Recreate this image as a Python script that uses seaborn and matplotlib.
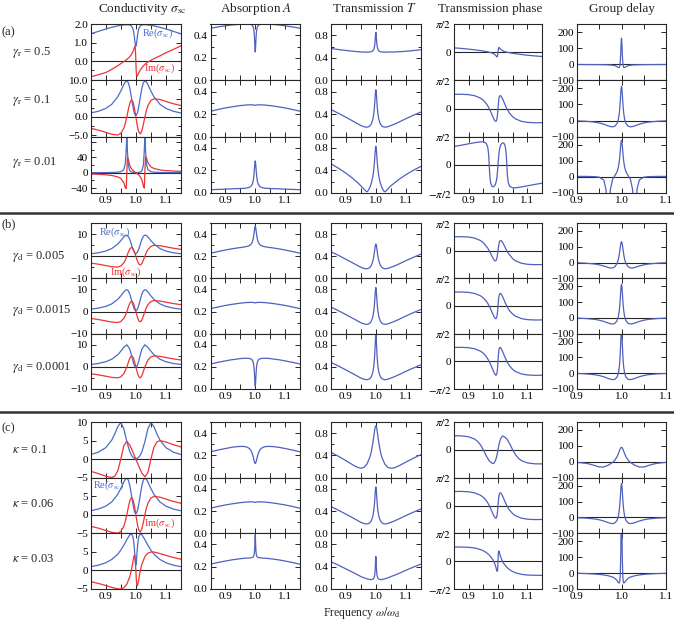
import matplotlib
matplotlib.use('Agg')
import matplotlib.pyplot as plt
import seaborn as sns
from matplotlib.lines import Line2D

sns.set_theme(style='ticks')
plt.rcParams['font.family'] = ['Liberation Serif', 'DejaVu Serif']
plt.rcParams['mathtext.fontset'] = 'stix'

# ---------------------------------------------------------------- data
# frequency grids (omega / omega_d)
X_BASE = [0.85, 0.875, 0.9, 0.92, 0.94, 0.95, 0.96, 0.965, 0.97, 0.975, 0.98, 0.985, 0.99, 0.993,
          0.995, 0.996, 0.997, 0.998, 0.999, 1.0, 1.001, 1.002, 1.003, 1.004, 1.005, 1.007, 1.01,
          1.015, 1.02, 1.025, 1.03, 1.035, 1.04, 1.05, 1.06, 1.08, 1.1, 1.125, 1.15]
X_A3 = [0.85, 0.875, 0.9, 0.92, 0.94, 0.95, 0.96, 0.965, 0.968, 0.97, 0.972, 0.975, 0.98, 0.985,
        0.99, 0.993, 0.995, 0.996, 0.997, 0.998, 0.999, 1.0, 1.001, 1.002, 1.003, 1.004, 1.005,
        1.007, 1.01, 1.015, 1.02, 1.025, 1.028, 1.03, 1.032, 1.035, 1.04, 1.05, 1.06, 1.08, 1.1,
        1.125, 1.15]
X_B3 = [0.85, 0.875, 0.9, 0.92, 0.94, 0.95, 0.96, 0.97, 0.98, 0.985, 0.99, 0.993, 0.995, 0.996,
        0.997, 0.998, 0.999, 0.9995, 1.0, 1.0005, 1.001, 1.002, 1.003, 1.004, 1.005, 1.007, 1.01,
        1.015, 1.02, 1.03, 1.04, 1.05, 1.06, 1.08, 1.1, 1.125, 1.15]
X_C1 = [0.85, 0.875, 0.9, 0.92, 0.93, 0.94, 0.95, 0.96, 0.97, 0.98, 0.985, 0.99, 0.993, 0.996,
        0.998, 0.999, 1.0, 1.001, 1.002, 1.004, 1.007, 1.01, 1.015, 1.02, 1.03, 1.04, 1.05, 1.06,
        1.07, 1.08, 1.1, 1.125, 1.15]
X_C3 = [0.85, 0.875, 0.9, 0.92, 0.94, 0.95, 0.96, 0.97, 0.98, 0.985, 0.99, 0.993, 0.995, 0.996,
        0.997, 0.998, 0.9985, 0.999, 0.9995, 1.0, 1.0005, 1.001, 1.0015, 1.002, 1.003, 1.004,
        1.005, 1.007, 1.01, 1.015, 1.02, 1.03, 1.04, 1.05, 1.06, 1.08, 1.1, 1.125, 1.15]

# gamma_r = 0.1, gamma_d = 0.0015, kappa = 0.06 (rows a2, b2, c2)
RE_BASE = [1.08, 1.53, 2.32, 3.46, 5.52, 7.08, 8.85, 9.57, 9.85, 9.36, 7.85, 5.50, 2.97, 1.72, 1.09,
           0.84, 0.65, 0.51, 0.43, 0.40, 0.43, 0.51, 0.65, 0.84, 1.09, 1.72, 2.97, 5.50, 7.85, 9.36,
           9.85, 9.57, 8.85, 7.08, 5.52, 3.46, 2.32, 1.53, 1.08]
IM_BASE = [-3.10, -3.60, -4.22, -4.75, -4.95, -4.50, -3.07, -1.76, 0.0, 2.01, 3.79, 4.65, 4.17, 3.25,
           2.44, 1.98, 1.51, 1.02, 0.51, 0.0, -0.51, -1.02, -1.51, -1.98, -2.44, -3.25, -4.17, -4.65,
           -3.79, -2.01, 0.0, 1.76, 3.07, 4.50, 4.95, 4.75, 4.22, 3.60, 3.10]
A_BASE = [0.226, 0.241, 0.255, 0.264, 0.272, 0.276, 0.278, 0.280, 0.281, 0.282, 0.282, 0.283, 0.282,
          0.282, 0.281, 0.281, 0.280, 0.279, 0.278, 0.278, 0.278, 0.279, 0.280, 0.281, 0.281, 0.282,
          0.282, 0.283, 0.282, 0.282, 0.281, 0.280, 0.278, 0.276, 0.272, 0.264, 0.255, 0.241, 0.226]
T_BASE = [0.480, 0.415, 0.344, 0.286, 0.227, 0.197, 0.177, 0.171, 0.169, 0.174, 0.190, 0.227, 0.308,
          0.405, 0.508, 0.577, 0.656, 0.738, 0.806, 0.833, 0.806, 0.738, 0.656, 0.577, 0.508, 0.405,
          0.308, 0.227, 0.190, 0.174, 0.169, 0.171, 0.177, 0.197, 0.217, 0.266, 0.318, 0.379, 0.436]
PH_BASE = [0.789, 0.795, 0.773, 0.716, 0.582, 0.460, 0.276, 0.151, 0.0, -0.175, -0.367, -0.555, -0.698,
           -0.718, -0.668, -0.609, -0.517, -0.384, -0.207, 0.0, 0.207, 0.384, 0.517, 0.609, 0.668,
           0.718, 0.698, 0.555, 0.367, 0.175, 0.0, -0.151, -0.276, -0.460, -0.582, -0.716, -0.773,
           -0.795, -0.789]
TAU_BASE = [0.6, -0.2, -1.7, -4.3, -9.7, -14.8, -22.6, -27.4, -33.0, -37.0, -39.0, -35.0, -18.5, 8.0,
            45.0, 74.0, 111.0, 156.0, 196.0, 213.0, 196.0, 156.0, 111.0, 74.0, 45.0, 8.0, -18.5,
            -35.0, -39.0, -37.0, -33.0, -27.4, -22.6, -14.8, -9.7, -4.3, -1.7, -0.2, 0.6]

# gamma_r = 0.5
RE_A1 = [1.47, 1.60, 1.73, 1.82, 1.90, 1.93, 1.95, 1.96, 1.96, 1.96, 1.95, 1.90, 1.76, 1.55, 1.31,
         1.16, 1.03, 0.92, 0.83, 0.80, 0.83, 0.92, 1.03, 1.16, 1.31, 1.55, 1.76, 1.90, 1.95, 1.96,
         1.96, 1.96, 1.95, 1.93, 1.90, 1.82, 1.73, 1.60, 1.47]
IM_A1 = [-0.85, -0.74, -0.62, -0.45, -0.25, -0.14, -0.03, 0.03, 0.09, 0.16, 0.24, 0.35, 0.50, 0.62,
         0.72, 0.78, 0.80, 0.70, 0.45, 0.0, -0.45, -0.70, -0.80, -0.82, -0.80, -0.74, -0.62, -0.48,
         -0.36, -0.26, -0.18, -0.11, -0.05, 0.04, 0.13, 0.28, 0.45, 0.63, 0.82]
A_A1 = [0.462, 0.474, 0.484, 0.491, 0.496, 0.498, 0.499, 0.4995, 0.500, 0.4998, 0.499, 0.496, 0.488,
        0.474, 0.451, 0.430, 0.397, 0.347, 0.284, 0.251, 0.284, 0.347, 0.397, 0.430, 0.451, 0.474,
        0.488, 0.496, 0.499, 0.4998, 0.500, 0.4995, 0.499, 0.498, 0.496, 0.491, 0.484, 0.474, 0.462]
T_A1 = [0.565, 0.546, 0.530, 0.518, 0.508, 0.503, 0.501, 0.501, 0.501, 0.501, 0.504, 0.509, 0.524,
        0.549, 0.587, 0.620, 0.669, 0.738, 0.815, 0.853, 0.815, 0.738, 0.669, 0.620, 0.587, 0.549,
        0.524, 0.509, 0.504, 0.501, 0.501, 0.501, 0.501, 0.503, 0.503, 0.508, 0.516, 0.528, 0.543]
PH_A1 = [0.242, 0.209, 0.169, 0.131, 0.088, 0.063, 0.035, 0.019, 0.0, -0.022, -0.049, -0.087, -0.144,
         -0.198, -0.240, -0.257, -0.262, -0.234, -0.148, 0.0, 0.148, 0.234, 0.262, 0.257, 0.240,
         0.198, 0.144, 0.087, 0.049, 0.022, 0.0, -0.019, -0.035, -0.063, -0.088, -0.131, -0.169,
         -0.209, -0.242]
TAU_A1 = [-1.2, -1.5, -1.7, -2.0, -2.4, -2.6, -3.1, -3.45, -4.0, -4.8, -6.3, -9.0, -14.9, -20.4,
          -20.2, -13.0, 7.6, 52.6, 121.5, 162.0, 121.5, 52.6, 7.6, -13.0, -20.2, -20.4, -14.9, -9.0,
          -6.3, -4.8, -4.0, -3.45, -3.1, -2.6, -2.4, -2.0, -1.7, -1.5, -1.2]

# gamma_r = 0.01
RE_A3 = [0.12, 0.18, 0.301, 0.537, 1.27, 2.52, 8.06, 23.7, 60.1, 96.0, 57.1, 19.4, 5.02, 1.93, 0.906,
         0.63, 0.519, 0.481, 0.451, 0.431, 0.419, 0.415, 0.419, 0.431, 0.451, 0.481, 0.519, 0.63,
         0.906, 1.93, 5.02, 19.4, 57.1, 96.0, 60.1, 23.7, 8.06, 2.52, 1.27, 0.537, 0.301, 0.18, 0.12]
IM_A3 = [-3.47, -4.24, -5.48, -7.23, -10.96, -15.2, -26.1, -39.7, -41.3, -0.3, 40.2, 34.8, 18.7, 10.8,
         6.16, 4.07, 2.83, 2.24, 1.67, 1.11, 0.55, 0.0, -0.55, -1.11, -1.67, -2.24, -2.83, -4.07,
         -6.16, -10.8, -18.7, -34.8, -40.2, 0.3, 41.3, 39.7, 26.1, 15.2, 10.96, 7.23, 5.48, 4.24, 3.47]
A_A3 = [0.029, 0.032, 0.034, 0.037, 0.039, 0.040, 0.041, 0.042, 0.043, 0.044, 0.045, 0.046, 0.050,
        0.058, 0.078, 0.107, 0.145, 0.172, 0.205, 0.242, 0.272, 0.285, 0.272, 0.242, 0.205, 0.172,
        0.145, 0.107, 0.078, 0.058, 0.050, 0.046, 0.045, 0.044, 0.043, 0.042, 0.041, 0.040, 0.039,
        0.037, 0.034, 0.032, 0.029]
T_A3 = [0.517, 0.440, 0.352, 0.271, 0.180, 0.126, 0.0715, 0.0423, 0.0268, 0.0225, 0.028, 0.049, 0.100,
        0.174, 0.294, 0.413, 0.528, 0.598, 0.675, 0.749, 0.806, 0.828, 0.806, 0.749, 0.675, 0.598,
        0.528, 0.413, 0.294, 0.174, 0.100, 0.049, 0.028, 0.0225, 0.0268, 0.0423, 0.0715, 0.126,
        0.170, 0.251, 0.324, 0.402, 0.470]
PH_A3 = [1.022, 1.095, 1.173, 1.233, 1.281, 1.282, 1.202, 0.996, 0.587, 0.003, -0.596, -1.021, -1.212,
         -1.222, -1.130, -0.997, -0.843, -0.735, -0.598, -0.427, -0.224, 0.0, 0.224, 0.427, 0.598,
         0.735, 0.843, 0.997, 1.130, 1.222, 1.212, 1.021, 0.596, -0.003, -0.587, -0.996, -1.202,
         -1.282, -1.281, -1.233, -1.173, -1.095, -1.022]
TAU_A3 = [2.8, 3.0, 3.1, 3.0, 1.6, -1.6, -19.1, -75.5, -218.0, -339.0, -232.0, -78.8, -13.9, 7.8,
          31.6, 60.5, 96.0, 122.0, 153.0, 188.0, 216.0, 228.0, 216.0, 188.0, 153.0, 122.0, 96.0,
          60.5, 31.6, 7.8, -13.9, -78.8, -232.0, -339.0, -218.0, -75.5, -19.1, -1.6, 1.6, 3.0, 3.1,
          3.0, 2.8]

# gamma_d = 0.005
RE_B1 = [1.08, 1.53, 2.32, 3.46, 5.52, 7.04, 8.71, 9.34, 9.53, 8.98, 7.55, 5.48, 3.34, 2.31, 1.78,
         1.58, 1.43, 1.31, 1.24, 1.22, 1.24, 1.31, 1.43, 1.58, 1.78, 2.31, 3.34, 5.48, 7.55, 8.98,
         9.53, 9.34, 8.71, 7.04, 5.52, 3.46, 2.32, 1.53, 1.08]
IM_B1 = [-3.10, -3.60, -4.22, -4.75, -4.90, -4.43, -2.98, -1.70, -0.04, 1.78, 3.31, 3.98, 3.51, 2.72,
         2.03, 1.65, 1.26, 0.84, 0.42, 0.0, -0.42, -0.84, -1.26, -1.65, -2.03, -2.72, -3.51, -3.98,
         -3.31, -1.78, 0.04, 1.70, 2.98, 4.43, 4.90, 4.75, 4.22, 3.60, 3.10]
A_B1 = [0.227, 0.242, 0.256, 0.266, 0.2745, 0.278, 0.282, 0.284, 0.287, 0.290, 0.296, 0.305, 0.327,
        0.356, 0.387, 0.407, 0.428, 0.449, 0.465, 0.471, 0.465, 0.449, 0.428, 0.407, 0.387, 0.356,
        0.327, 0.305, 0.296, 0.290, 0.287, 0.284, 0.282, 0.278, 0.2745, 0.266, 0.256, 0.242, 0.227]
T_B1 = [0.480, 0.415, 0.344, 0.286, 0.228, 0.199, 0.180, 0.174, 0.174, 0.180, 0.198, 0.236, 0.313,
        0.393, 0.466, 0.507, 0.548, 0.585, 0.612, 0.621, 0.612, 0.585, 0.548, 0.507, 0.466, 0.393,
        0.313, 0.236, 0.198, 0.180, 0.174, 0.174, 0.180, 0.199, 0.218, 0.266, 0.318, 0.379, 0.436]
PH_B1 = [0.789, 0.795, 0.773, 0.716, 0.578, 0.455, 0.242, 0.149, 0.0, -0.161, -0.333, -0.489, -0.581,
         -0.563, -0.492, -0.432, -0.352, -0.250, -0.130, 0.0, 0.130, 0.250, 0.352, 0.432, 0.492,
         0.563, 0.581, 0.489, 0.333, 0.161, 0.0, -0.149, -0.242, -0.455, -0.578, -0.716, -0.773,
         -0.795, -0.789]
TAU_B1 = [0.6, -0.2, -1.7, -4.3, -9.7, -14.8, -22.0, -26.4, -31.2, -35.1, -33.8, -27.0, -6.4, 21.1,
          51.2, 70.5, 91.4, 111.4, 126.5, 132.0, 126.5, 111.4, 91.4, 70.5, 51.2, 21.1, -6.4, -27.0,
          -33.8, -35.1, -31.2, -26.4, -22.0, -14.8, -9.7, -4.3, -1.7, -0.2, 0.6]

# gamma_d = 0.0001
RE_B3 = [1.08, 1.53, 2.32, 3.46, 5.52, 7.08, 8.85, 9.99, 7.99, 5.52, 2.82, 1.466, 0.778, 0.511,
         0.302, 0.150, 0.058, 0.035, 0.028, 0.035, 0.058, 0.150, 0.302, 0.511, 0.778, 1.466, 2.82,
         5.52, 7.99, 9.99, 8.85, 7.08, 5.52, 3.46, 2.32, 1.53, 1.08]
IM_B3 = [-3.10, -3.60, -4.22, -4.75, -4.95, -4.50, -3.07, 0.0, 3.99, 4.95, 4.47, 3.50, 2.63, 2.14,
         1.63, 1.10, 0.55, 0.28, 0.0, -0.28, -0.55, -1.10, -1.63, -2.14, -2.63, -3.50, -4.47, -4.95,
         -3.99, 0.0, 3.07, 4.50, 4.95, 4.75, 4.22, 3.60, 3.10]
A_B3 = [0.226, 0.241, 0.254, 0.264, 0.271, 0.275, 0.277, 0.278, 0.276, 0.272, 0.261, 0.242, 0.213,
        0.188, 0.152, 0.103, 0.051, 0.034, 0.027, 0.034, 0.051, 0.103, 0.152, 0.188, 0.213, 0.242,
        0.261, 0.272, 0.276, 0.278, 0.277, 0.275, 0.271, 0.264, 0.254, 0.241, 0.226]
T_B3 = [0.480, 0.415, 0.344, 0.286, 0.227, 0.197, 0.177, 0.167, 0.186, 0.222, 0.304, 0.406, 0.523,
        0.606, 0.709, 0.829, 0.939, 0.974, 0.986, 0.974, 0.939, 0.829, 0.709, 0.606, 0.523, 0.406,
        0.304, 0.222, 0.186, 0.167, 0.177, 0.197, 0.217, 0.266, 0.318, 0.379, 0.436]
PH_B3 = [0.789, 0.795, 0.773, 0.716, 0.582, 0.460, 0.276, 0.0, -0.380, -0.582, -0.747, -0.791, -0.758,
         -0.706, -0.616, -0.472, -0.262, -0.135, 0.0, 0.135, 0.262, 0.472, 0.616, 0.706, 0.758,
         0.791, 0.747, 0.582, 0.380, 0.0, -0.276, -0.460, -0.582, -0.716, -0.773, -0.795, -0.789]
TAU_B3 = [0.6, -0.2, -1.7, -4.3, -9.7, -14.8, -22.6, -33.3, -41.2, -38.9, -24.6, 0.1, 37.0, 69.0,
          115.0, 176.0, 242.0, 264.0, 272.0, 264.0, 242.0, 176.0, 115.0, 69.0, 37.0, 0.1, -24.6,
          -38.9, -41.2, -33.3, -22.6, -14.8, -9.7, -4.3, -1.7, -0.2, 0.6]

# kappa = 0.1
RE_C1 = [1.24, 1.85, 3.08, 5.13, 6.78, 8.75, 9.85, 8.19, 4.69, 1.96, 1.11, 0.557, 0.345, 0.211, 0.164,
         0.152, 0.148, 0.152, 0.164, 0.211, 0.345, 0.557, 1.11, 1.96, 4.69, 8.19, 9.85, 8.75, 6.78,
         5.13, 3.08, 1.85, 1.24]
IM_C1 = [-3.29, -3.88, -4.61, -4.97, -4.62, -3.17, 0.0, 3.60, 4.80, 3.75, 2.88, 1.935, 1.357, 0.776,
         0.388, 0.194, 0.0, -0.194, -0.388, -0.776, -1.357, -1.935, -2.88, -3.75, -4.80, -3.60, 0.0,
         3.17, 4.62, 4.97, 4.61, 3.88, 3.29]
A_C1 = [0.232, 0.248, 0.262, 0.272, 0.276, 0.279, 0.2805, 0.2805, 0.277, 0.263, 0.247, 0.217, 0.188,
        0.154, 0.135, 0.130, 0.128, 0.130, 0.135, 0.154, 0.188, 0.217, 0.247, 0.263, 0.277, 0.2805,
        0.2805, 0.279, 0.276, 0.272, 0.262, 0.248, 0.232]
T_C1 = [0.456, 0.384, 0.305, 0.240, 0.208, 0.1835, 0.169, 0.185, 0.243, 0.367, 0.472, 0.624, 0.738,
        0.853, 0.910, 0.926, 0.931, 0.926, 0.910, 0.853, 0.738, 0.624, 0.472, 0.367, 0.243, 0.185,
        0.169, 0.174, 0.196, 0.220, 0.279, 0.348, 0.412]
PH_C1 = [0.793, 0.789, 0.736, 0.609, 0.484, 0.287, 0.0, -0.340, -0.622, -0.759, -0.777, -0.647,
         -0.525, -0.338, -0.178, -0.090, 0.0, 0.090, 0.178, 0.338, 0.525, 0.647, 0.777, 0.759, 0.622,
         0.340, 0.0, -0.287, -0.484, -0.609, -0.736, -0.789, -0.793]
TAU_C1 = [0.35, -0.85, -3.8, -9.7, -15.5, -24.0, -32.8, -33.0, -22.0, -4.1, 9.7, 31.8, 51.2, 73.5,
          85.6, 89.2, 90.4, 89.2, 85.6, 73.5, 51.2, 31.8, 9.7, -4.1, -22.0, -33.0, -32.8, -24.0,
          -15.5, -9.7, -3.8, -0.85, 0.35]

# kappa = 0.03
RE_C3 = [1.02, 1.41, 2.07, 2.96, 4.41, 5.47, 6.78, 8.30, 9.63, 9.85, 9.15, 7.70, 5.99, 4.89, 3.70,
         2.57, 2.10, 1.74, 1.51, 1.43, 1.51, 1.74, 2.10, 2.57, 3.70, 4.89, 5.99, 7.70, 9.15, 9.85,
         9.63, 8.30, 6.78, 5.47, 4.41, 2.96, 2.07, 1.41, 1.02]
IM_C3 = [-3.02, -3.49, -4.05, -4.56, -4.96, -4.97, -4.66, -3.72, -1.67, 0.0, 2.19, 3.58, 4.13, 4.09,
         3.70, 2.86, 2.27, 1.58, 0.81, 0.0, -0.81, -1.58, -2.27, -2.86, -3.70, -4.09, -4.13, -3.58,
         -2.19, 0.0, 1.67, 3.72, 4.66, 4.97, 4.96, 4.56, 4.05, 3.49, 3.02]
A_C3 = [0.223, 0.238, 0.251, 0.261, 0.2685, 0.272, 0.275, 0.277, 0.279, 0.2805, 0.283, 0.288, 0.296,
        0.305, 0.321, 0.354, 0.383, 0.423, 0.466, 0.486, 0.466, 0.423, 0.383, 0.354, 0.321, 0.305,
        0.296, 0.288, 0.283, 0.2805, 0.279, 0.277, 0.275, 0.272, 0.2685, 0.261, 0.251, 0.238, 0.223]
T_C3 = [0.490, 0.428, 0.361, 0.307, 0.252, 0.223, 0.201, 0.183, 0.170, 0.169, 0.176, 0.193, 0.222,
        0.250, 0.295, 0.371, 0.427, 0.493, 0.556, 0.583, 0.556, 0.493, 0.427, 0.371, 0.295, 0.250,
        0.222, 0.193, 0.176, 0.169, 0.170, 0.183, 0.201, 0.223, 0.242, 0.287, 0.335, 0.392, 0.446]
PH_C3 = [0.801, 0.796, 0.783, 0.744, 0.658, 0.587, 0.487, 0.346, 0.143, 0.0, -0.194, -0.353, -0.477,
         -0.531, -0.575, -0.559, -0.504, -0.399, -0.226, 0.0, 0.226, 0.399, 0.504, 0.559, 0.575,
         0.531, 0.477, 0.353, 0.194, 0.0, -0.143, -0.346, -0.487, -0.587, -0.658, -0.744, -0.783,
         -0.796, -0.801]
TAU_C3 = [0.65, 0.0, -1.2, -2.9, -6.0, -8.4, -11.7, -16.6, -24.8, -32.6, -46.7, -59.4, -62.3, -52.9,
          -20.8, 68.0, 154.0, 276.0, 410.0, 475.0, 410.0, 276.0, 154.0, 68.0, -20.8, -52.9, -62.3,
          -59.4, -46.7, -32.6, -24.8, -16.6, -11.7, -8.4, -6.0, -2.9, -1.2, 0.0, 0.65]

TITLES = ['Conductivity $\\sigma_{\\rm sc}$', 'Absorption $A$', 'Transmission $T$',
          'Transmission phase', 'Group delay']
ROW_LABELS = ['$\\gamma_{\\rm r}$ = 0.5', '$\\gamma_{\\rm r}$ = 0.1', '$\\gamma_{\\rm r}$ = 0.01',
              '$\\gamma_{\\rm d}$ = 0.005', '$\\gamma_{\\rm d}$ = 0.0015', '$\\gamma_{\\rm d}$ = 0.0001',
              '$\\kappa$ = 0.1', '$\\kappa$ = 0.06', '$\\kappa$ = 0.03']

ROWS = [
    ('a', 0, X_BASE, RE_A1, IM_A1, A_A1, T_A1, PH_A1, TAU_A1),
    ('a', 1, X_BASE, RE_BASE, IM_BASE, A_BASE, T_BASE, PH_BASE, TAU_BASE),
    ('a', 2, X_A3, RE_A3, IM_A3, A_A3, T_A3, PH_A3, TAU_A3),
    ('b', 0, X_BASE, RE_B1, IM_B1, A_B1, T_B1, PH_B1, TAU_B1),
    ('b', 1, X_BASE, RE_BASE, IM_BASE, A_BASE, T_BASE, PH_BASE, TAU_BASE),
    ('b', 2, X_B3, RE_B3, IM_B3, A_B3, T_B3, PH_B3, TAU_B3),
    ('c', 0, X_C1, RE_C1, IM_C1, A_C1, T_C1, PH_C1, TAU_C1),
    ('c', 1, X_BASE, RE_BASE, IM_BASE, A_BASE, T_BASE, PH_BASE, TAU_BASE),
    ('c', 2, X_C3, RE_C3, IM_C3, A_C3, T_C3, PH_C3, TAU_C3),
]

# ---------------------------------------------------------------- layout
W, H = 674, 625
COLS = [(90.7, 181.0), (210.5, 300.0), (331.0, 420.7), (454.0, 542.0), (577.0, 666.0)]
GROUPS = {'a': (24, 193), 'b': (223, 389), 'c': (422, 589)}
TITLE_X = [142, 256, 375, 490, 622]
LABEL_Y = [53, 100, 163, 256, 311, 367, 450, 504, 559]
LETTER_Y = {'a': 32, 'b': 224, 'c': 428}

BLUE = '#5060bd'
RE_BLUE = '#4a6cc8'
RED = '#ec3434'
FRAME = '0.15'

COL1_Y = {
    ('a', 0): ((-1.04, 2.0), [0, 1, 2], ['0.0', '1.0', '2.0'], [-0.5, 0.5, 1.5]),
    ('a', 1): ((-5.4, 10), [-5, 0, 5, 10], ['\u22125.0', '0.0', '5.0', '10.0'], [-2.5, 2.5, 7.5]),
    ('a', 2): ((-53, 94), [-40, 0, 40, 80], ['\u221240', '0', '40', ''], [-20, 20, 60]),
    ('b', 0): ((-10, 15), [-10, 0, 10], ['\u221210', '0', '10'], [-5, 5]),
    ('b', 1): ((-10, 15), [-10, 0, 10], ['\u221210', '0', '10'], [-5, 5]),
    ('b', 2): ((-10, 15), [-10, 0, 10], ['\u221210', '0', '10'], [-5, 5]),
    ('c', 0): ((-5, 10), [-5, 0, 5, 10], ['\u22125', '0', '5', '10'], []),
    ('c', 1): ((-5, 10), [-5, 0, 5, 10], ['\u22125', '0', '5', ''], []),
    ('c', 2): ((-5, 10), [-5, 0, 5, 10], ['\u22125', '0', '5', ''], []),
}

fig = plt.figure(figsize=(W / 100, H / 100), dpi=100)


def make_ax(col, g, r):
    x0, x1 = COLS[col]
    top, bot = GROUPS[g]
    h = (bot - top) / 3
    y0 = top + r * h
    ax = fig.add_axes([x0 / W, 1 - (y0 + h) / H, (x1 - x0) / W, h / H])
    for s in ax.spines.values():
        s.set_color(FRAME)
        s.set_linewidth(0.8)
    ax.tick_params(which='both', direction='in', top=True, right=True, labelsize=8,
                   pad=2, width=0.7, color=FRAME, labelcolor='black')
    ax.tick_params(which='major', length=3.5)
    ax.tick_params(which='minor', length=2.2)
    ax.set_xticks([0.9, 0.95, 1.0, 1.05, 1.1])
    if r == 2:
        ax.set_xticklabels(['0.9', '', '1.0', '', '1.1'])
    else:
        ax.tick_params(labelbottom=False)
    ax.set_xlim(0.9 if col == 4 else 0.85, 1.1 if col == 4 else 1.15)
    return ax


def curve(ax, xs, ys, color):
    sns.lineplot(x=xs, y=ys, ax=ax, color=color, linewidth=0.9, estimator=None, sort=False)
    ax.set_xlabel('')
    ax.set_ylabel('')


for i, (g, r, xs, re, im, ab, tr, ph, tau) in enumerate(ROWS):
    # conductivity
    ax = make_ax(0, g, r)
    ax.axhline(0, color=FRAME, lw=0.8, zorder=1)
    curve(ax, xs, re, RE_BLUE)
    curve(ax, xs, im, RED)
    lim, ticks, labels, minors = COL1_Y[(g, r)]
    ax.set_ylim(*lim)
    ax.set_yticks(ticks)
    ax.set_yticklabels(labels)
    ax.set_yticks(minors, minor=True)
    ax.set_xlim(0.85, 1.15)

    # absorption
    ax = make_ax(1, g, r)
    curve(ax, xs, ab, BLUE)
    ax.set_ylim(0, 0.5)
    ax.set_yticks([0, 0.2, 0.4])
    ax.set_yticklabels(['0.0', '0.2', '0.4'])
    ax.set_yticks([0.1, 0.3], minor=True)
    ax.set_xlim(0.85, 1.15)

    # transmission
    ax = make_ax(2, g, r)
    curve(ax, xs, tr, BLUE)
    ax.set_ylim(0, 1.0)
    ax.set_yticks([0, 0.4, 0.8])
    ax.set_yticklabels(['0.0', '0.4', '0.8'])
    ax.set_yticks([0.2, 0.6], minor=True)
    ax.set_xlim(0.85, 1.15)

    # phase
    ax = make_ax(3, g, r)
    ax.axhline(0, color=FRAME, lw=0.8, zorder=1)
    curve(ax, xs, ph, BLUE)
    ax.set_ylim(-1.5708, 1.5708)
    ax.set_yticks([-1.5708, 0, 1.5708])
    ax.set_yticklabels(['$-\\pi/2$' if r == 2 else '', '0', '$\\pi/2$'])
    ax.set_xlim(0.85, 1.15)

    # group delay
    ax = make_ax(4, g, r)
    ax.axhline(0, color=FRAME, lw=0.8, zorder=1)
    curve(ax, xs, tau, BLUE)
    ax.set_ylim(-100, 250)
    ax.set_yticks([-100, 0, 100, 200])
    ax.set_yticklabels(['\u2212100', '0', '100', '200'])
    ax.set_xlim(0.9, 1.1)

    # annotations inside the conductivity panels
    cax = fig.axes[-5]
    if (g, r) == ('a', 0):
        cax.text(1.02, 1.5, 'Re($\\sigma_{\\rm sc}$)', color=RE_BLUE, fontsize=7.5, va='center')
        cax.text(1.027, -0.37, 'Im($\\sigma_{\\rm sc}$)', color=RED, fontsize=7.5, va='center')
    if (g, r) == ('b', 0):
        cax.text(0.879, 10.9, 'Re($\\sigma_{\\rm sc}$)', color=RE_BLUE, fontsize=7.5, va='center')
        cax.text(0.914, -7.1, 'Im($\\sigma_{\\rm sc}$)', color=RED, fontsize=7.5, va='center')
    if (g, r) == ('c', 1):
        cax.text(0.857, 8.0, 'Re($\\sigma_{\\rm sc}$)', color=RE_BLUE, fontsize=7.5, va='center')
        cax.text(1.027, -2.3, 'Im($\\sigma_{\\rm sc}$)', color=RED, fontsize=7.5, va='center')

    fig.text(11.7 / W, 1 - LABEL_Y[i] / H, ROW_LABELS[i], fontsize=9, ha='left', va='center')

for g, y in LETTER_Y.items():
    fig.text(1 / W, 1 - y / H, '(%s)' % g, fontsize=9, ha='left', va='center')

for x, t in zip(TITLE_X, TITLES):
    fig.text(x / W, 1 - 9 / H, t, fontsize=9.5, ha='center', va='center')

fig.text(362 / W, 1 - 613 / H, 'Frequency $\\omega/\\omega_{\\rm d}$', fontsize=8.5,
         ha='center', va='center')

for y in (213, 412):
    fig.add_artist(Line2D([0, 1], [1 - y / H, 1 - y / H], color='0.2', lw=1.8,
                          transform=fig.transFigure))

fig.savefig('out.png', dpi=100)
